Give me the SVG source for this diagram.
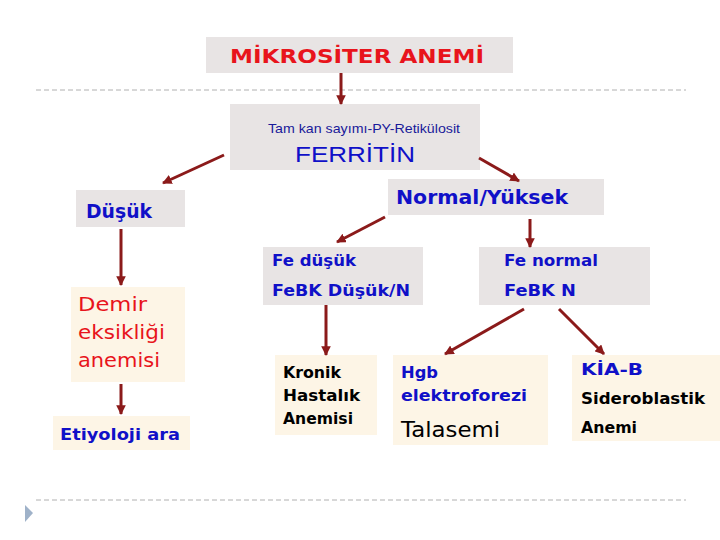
<svg xmlns="http://www.w3.org/2000/svg" width="720" height="540" viewBox="0 0 720 540">
<defs>
<marker id="ah" viewBox="0 0 10 10" refX="9" refY="5" markerWidth="3.2" markerHeight="3.2" orient="auto" markerUnits="strokeWidth">
<path d="M0,0 L10,5 L0,10 z" fill="#8b1a1a"/>
</marker>
<style>
.g{fill:#e8e4e4}
.c{fill:#fdf5e6}
.t{font-family:"DejaVu Sans","Liberation Sans",sans-serif;font-weight:bold}
.n{font-weight:normal}
.b{fill:#1010c8}
.r{fill:#e8141c}
.k{fill:#000}
.a{font-family:"Liberation Sans",Arial,sans-serif}
.con line{stroke:#8b1a1a;stroke-width:3;marker-end:url(#ah)}
.dash{stroke:#b0b0b0;stroke-width:1;stroke-dasharray:5,3}
</style>
</defs>
<rect width="720" height="540" fill="#fff"/>
<line class="dash" x1="36" y1="90" x2="686" y2="90"/>
<line class="dash" x1="36" y1="500" x2="686" y2="500"/>
<polygon points="25,505 33,513 25,522" fill="#9fb2c9"/>

<g id="title"><rect class="g" x="206" y="37" width="307" height="36"/>
<text class="t r" x="230" y="63" font-size="20" textLength="254" lengthAdjust="spacingAndGlyphs">MİKROSİTER ANEMİ</text></g>

<g id="ferritin"><rect class="g" x="230" y="104" width="250" height="66"/>
<text class="a" x="268" y="133" font-size="13" fill="#1a1a9a" textLength="192" lengthAdjust="spacingAndGlyphs">Tam kan sayımı-PY-Retikülosit</text>
<text class="a" x="295" y="162" font-size="22" fill="#1010c8" textLength="120" lengthAdjust="spacingAndGlyphs">FERRİTİN</text></g>

<g id="dusuk"><rect class="g" x="76" y="190" width="109" height="37"/>
<text class="t b" x="86" y="218" font-size="20" textLength="66" lengthAdjust="spacingAndGlyphs">Düşük</text></g>

<g id="normal"><rect class="g" x="388" y="179" width="216" height="36"/>
<text class="t b" x="396" y="204" font-size="20" textLength="172" lengthAdjust="spacingAndGlyphs">Normal/Yüksek</text></g>

<g id="demir"><rect class="c" x="71" y="287" width="114" height="95"/>
<text class="t n r" font-size="20"><tspan x="78" y="311" textLength="69" lengthAdjust="spacingAndGlyphs">Demir</tspan><tspan x="78" y="339" textLength="87" lengthAdjust="spacingAndGlyphs">eksikliği</tspan><tspan x="78" y="367" textLength="82" lengthAdjust="spacingAndGlyphs">anemisi</tspan></text></g>

<g id="etiyoloji"><rect class="c" x="53" y="416" width="137" height="34"/>
<text class="t b" x="60" y="440" font-size="16" textLength="120" lengthAdjust="spacingAndGlyphs">Etiyoloji ara</text></g>

<g id="fedusuk"><rect class="g" x="263" y="247" width="160" height="58"/>
<text class="t b" font-size="16"><tspan x="272" y="266" textLength="84" lengthAdjust="spacingAndGlyphs">Fe düşük</tspan><tspan x="272" y="296" textLength="138" lengthAdjust="spacingAndGlyphs">FeBK Düşük/N</tspan></text></g>

<g id="fenormal"><rect class="g" x="479" y="247" width="171" height="58"/>
<text class="t b" font-size="16"><tspan x="504" y="266" textLength="94" lengthAdjust="spacingAndGlyphs">Fe normal</tspan><tspan x="504" y="296" textLength="72" lengthAdjust="spacingAndGlyphs">FeBK N</tspan></text></g>

<g id="kronik"><rect class="c" x="275" y="355" width="102" height="80"/>
<text class="t k" font-size="16"><tspan x="283" y="378" textLength="58" lengthAdjust="spacingAndGlyphs">Kronik</tspan><tspan x="283" y="401" textLength="77" lengthAdjust="spacingAndGlyphs">Hastalık</tspan><tspan x="283" y="424" textLength="70" lengthAdjust="spacingAndGlyphs">Anemisi</tspan></text></g>

<g id="hgb"><rect class="c" x="393" y="355" width="155" height="90"/>
<text class="t b" font-size="16"><tspan x="401" y="378" textLength="37" lengthAdjust="spacingAndGlyphs">Hgb</tspan><tspan x="401" y="401" textLength="126" lengthAdjust="spacingAndGlyphs">elektroforezi</tspan></text>
<text class="t n k" x="401" y="437" font-size="21" textLength="99" lengthAdjust="spacingAndGlyphs">Talasemi</text></g>

<g id="kiab"><rect class="c" x="572" y="355" width="148" height="86"/>
<text class="t b" x="581" y="375" font-size="16" textLength="62" lengthAdjust="spacingAndGlyphs">KİA-B</text>
<text class="t k" font-size="16"><tspan x="581" y="404" textLength="124" lengthAdjust="spacingAndGlyphs">Sideroblastik</tspan><tspan x="581" y="433" textLength="56" lengthAdjust="spacingAndGlyphs">Anemi</tspan></text></g>

<g id="connectors" class="con">
<line x1="341" y1="73" x2="341" y2="104"/>
<line x1="224" y1="155" x2="163" y2="183"/>
<line x1="479" y1="158" x2="519" y2="181"/>
<line x1="121" y1="229" x2="121" y2="285"/>
<line x1="121" y1="384" x2="121" y2="414"/>
<line x1="385" y1="217" x2="337" y2="242"/>
<line x1="530" y1="219" x2="530" y2="247"/>
<line x1="326" y1="305" x2="326" y2="355"/>
<line x1="524" y1="309" x2="445" y2="354"/>
<line x1="559" y1="309" x2="604" y2="354"/>
</g>
</svg>
